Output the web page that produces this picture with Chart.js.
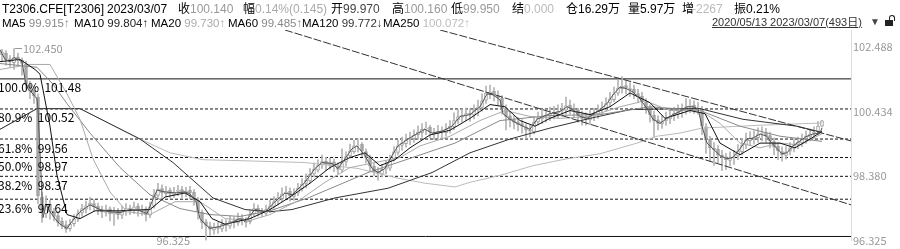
<!DOCTYPE html>
<html>
<head>
<meta charset="utf-8">
<script src="https://cdn.jsdelivr.net/npm/chart.js@4.4.0/dist/chart.umd.min.js"></script>
<style>
  body { margin: 0; background: #fff; }
  #wrap { position: relative; width: 900px; height: 249px; overflow: hidden; font-family: 'Liberation Sans', 'Noto Sans CJK SC', sans-serif; }
  #chart { position: absolute; left: 0; top: 0; }
  .t { position: absolute; font-size: 12px; line-height: 14px; white-space: nowrap; color: #000; }
  .z2 { font-size: 11.5px; }
  #zeitraum { left: 712px; top: 15px; color: #333; text-decoration: underline; font-size: 11px; }
  #pfeil { left: 870px; top: 15px; color: #444; font-size: 10px; }
  #schloss { position: absolute; left: 885px; top: 20px; width: 8px; height: 6px; background: #222; }
  #schloss:after { content: ''; position: absolute; left: 4px; top: -5px; width: 4px; height: 5px; border: 1px solid #222; border-bottom: none; border-radius: 3px 3px 0 0; }
</style>
</head>
<body>
<div id="wrap">
  <canvas id="chart" width="900" height="249"></canvas>
  <div id="kopf"></div>
  <span class="t" id="zeitraum">2020/05/13 2023/03/07(493日)</span>
  <span class="t" id="pfeil">▼</span>
  <div id="schloss"></div>
</div>
<script>
// Kerzen (Index 0 = linker Rand)
const eroeffnung = [102.25,102.30,102.12,102.00,102.18,102.08,101.95,101.28,101.12,100.90,
  97.70,97.18,97.48,97.22,97.12,96.93,96.82,96.70,96.86,97.00,
  97.20,97.32,97.45,97.50,97.42,97.30,97.22,97.33,97.16,97.26,
  97.13,97.29,97.36,97.29,97.42,97.25,97.33,97.13,97.42,97.76,
  97.98,97.82,97.92,97.79,97.89,97.95,97.82,97.92,97.86,97.60,
  97.22,96.92,96.78,96.66,96.76,96.69,96.86,96.78,96.95,96.88,
  97.04,96.94,96.92,97.17,97.36,97.22,97.19,97.33,97.41,97.58,
  97.66,97.83,97.89,97.73,97.83,97.97,98.14,98.22,98.45,98.57,
  98.73,98.86,98.73,98.83,98.69,98.57,98.83,99.02,99.16,99.36,
  99.39,99.16,98.99,98.69,98.54,98.44,98.61,98.63,98.92,99.13,
  99.36,99.41,99.55,99.57,99.70,99.76,99.89,99.93,99.76,99.74,
  99.83,99.76,99.89,99.95,100.17,100.26,100.33,100.39,100.32,100.49,
  100.57,100.80,101.01,101.08,100.95,100.86,100.55,100.30,100.17,100.11,
  100.05,99.95,99.86,99.79,100.11,100.20,100.30,100.29,100.39,100.39,
  100.46,100.48,100.64,100.54,100.49,100.29,100.24,100.17,100.30,100.35,
  100.49,100.54,100.71,100.82,101.02,101.17,101.27,101.17,101.15,101.01,
  100.93,100.73,100.58,100.32,100.17,100.04,100.14,100.20,100.30,100.35,
  100.46,100.45,100.61,100.64,100.54,100.50,99.95,99.55,99.26,99.23,
  99.04,98.99,98.88,98.99,99.02,99.16,99.39,99.51,99.61,99.60,
  99.74,99.77,99.67,99.48,99.33,99.16,99.04,99.17,99.26,99.39,
  99.44,99.58,99.63,99.74,99.80,99.97];
const hoch = [102.42,102.38,102.22,102.45,102.30,102.15,102.05,101.40,101.25,101.00,
  97.85,97.75,97.60,97.35,97.25,97.05,96.95,97.00,97.15,97.30,
  97.48,97.58,97.70,97.62,97.52,97.42,97.45,97.40,97.38,97.35,
  97.42,97.50,97.45,97.55,97.50,97.45,97.40,97.55,97.95,98.15,
  98.10,98.05,98.00,98.02,98.08,98.05,98.02,98.05,97.95,97.70,
  97.30,97.00,96.90,96.88,96.90,97.00,96.98,97.10,97.08,97.20,
  97.15,97.05,97.30,97.50,97.45,97.35,97.45,97.60,97.72,97.85,
  98.00,98.05,98.00,97.98,98.15,98.30,98.45,98.62,98.80,98.90,
  99.05,98.98,98.95,98.92,98.80,99.25,99.15,99.40,99.52,99.55,
  99.45,99.25,99.05,98.78,98.65,98.75,98.85,99.05,99.32,99.52,
  99.62,99.72,99.78,99.85,99.98,100.05,100.10,100.00,99.90,100.00,
  99.95,100.05,100.15,100.40,100.50,100.52,100.55,100.52,100.65,100.80,
  101.00,101.25,101.28,101.20,101.10,100.95,100.65,100.42,100.30,100.25,
  100.18,100.05,100.00,100.28,100.42,100.50,100.50,100.58,100.60,100.65,
  100.70,100.90,100.80,100.68,100.55,100.45,100.40,100.48,100.55,100.65,
  100.75,100.88,101.05,101.22,101.45,101.55,101.42,101.35,101.28,101.15,
  101.05,100.85,100.65,100.45,100.30,100.30,100.42,100.48,100.58,100.65,
  100.68,100.85,100.82,100.78,100.72,100.60,100.05,99.65,99.45,99.35,
  99.20,99.10,99.15,99.20,99.38,99.58,99.75,99.80,99.82,99.92,
  99.95,99.90,99.78,99.60,99.45,99.30,99.32,99.45,99.55,99.62,
  99.72,99.82,99.88,99.95,100.12,100.16];
const tief = [102.05,101.92,101.85,101.78,101.90,101.60,101.15,100.85,100.70,97.50,
  96.90,97.05,97.00,96.95,96.78,96.70,96.58,96.62,96.78,96.92,
  97.10,97.20,97.30,97.25,97.15,97.05,97.10,96.95,96.80,97.00,
  97.02,97.12,97.15,97.18,97.10,97.12,96.95,97.05,97.35,97.70,
  97.70,97.72,97.68,97.70,97.75,97.70,97.72,97.65,97.45,97.00,
  96.70,96.325,96.48,96.52,96.55,96.60,96.62,96.70,96.72,96.80,
  96.82,96.75,96.85,97.10,97.10,97.08,97.12,97.22,97.35,97.45,
  97.55,97.68,97.58,97.60,97.75,97.90,98.00,98.15,98.35,98.50,
  98.62,98.55,98.60,98.52,98.45,98.50,98.70,98.95,99.10,99.15,
  99.00,98.80,98.55,98.40,98.25,98.35,98.45,98.55,98.85,99.05,
  99.20,99.30,99.38,99.45,99.55,99.62,99.70,99.60,99.55,99.58,
  99.60,99.65,99.75,99.85,100.05,100.10,100.15,100.12,100.20,100.30,
  100.45,100.70,100.85,100.78,100.65,100.35,99.85,99.95,99.88,99.82,
  99.75,99.58,99.62,99.72,100.00,100.05,100.10,100.15,100.20,100.22,
  100.28,100.35,100.35,100.25,100.10,100.00,100.00,100.02,100.15,100.22,
  100.35,100.45,100.60,100.75,100.95,101.02,101.00,100.92,100.85,100.72,
  100.55,100.38,100.10,99.62,99.85,99.90,100.00,100.05,100.15,100.22,
  100.25,100.35,100.40,100.38,100.35,99.70,99.10,98.85,98.72,98.80,
  98.55,98.58,98.70,98.75,98.90,99.05,99.25,99.35,99.40,99.45,
  99.50,99.45,99.28,99.05,98.90,98.85,98.92,99.05,99.15,99.25,
  99.32,99.42,99.50,99.58,99.70,99.95];
const schluss = [102.34,102.10,102.03,102.16,102.10,101.97,101.31,101.09,100.94,97.75,
  97.20,97.46,97.24,97.09,96.90,96.80,96.68,96.84,97.02,97.18,
  97.34,97.43,97.52,97.40,97.31,97.24,97.31,97.18,97.24,97.15,
  97.27,97.34,97.31,97.40,97.27,97.31,97.15,97.40,97.78,97.96,
  97.84,97.90,97.81,97.87,97.93,97.84,97.90,97.84,97.62,97.24,
  96.90,96.80,96.68,96.74,96.71,96.84,96.80,96.93,96.90,97.02,
  96.96,96.90,97.15,97.34,97.24,97.21,97.31,97.43,97.56,97.68,
  97.81,97.87,97.75,97.81,97.99,98.12,98.24,98.43,98.59,98.71,
  98.84,98.75,98.81,98.71,98.59,98.81,99.00,99.18,99.34,99.37,
  99.18,98.97,98.71,98.52,98.46,98.59,98.65,98.90,99.15,99.34,
  99.43,99.53,99.59,99.68,99.78,99.87,99.91,99.78,99.72,99.81,
  99.78,99.87,99.97,100.15,100.28,100.31,100.37,100.34,100.47,100.59,
  100.78,101.03,101.06,100.97,100.88,100.53,100.28,100.19,100.09,100.03,
  99.97,99.84,99.81,100.09,100.22,100.28,100.31,100.37,100.41,100.44,
  100.50,100.62,100.56,100.47,100.31,100.22,100.19,100.28,100.37,100.47,
  100.56,100.69,100.84,101.00,101.19,101.25,101.19,101.13,101.03,100.91,
  100.75,100.56,100.34,100.15,100.06,100.12,100.22,100.28,100.37,100.44,
  100.47,100.59,100.62,100.56,100.53,99.97,99.53,99.28,99.21,99.06,
  98.97,98.90,98.97,99.00,99.18,99.37,99.53,99.59,99.62,99.72,
  99.75,99.65,99.50,99.31,99.18,99.06,99.15,99.28,99.37,99.46,
  99.56,99.65,99.72,99.78,99.97,100.14];

// Durchschnittslinien als [Index, Wert]
const ma5 = [[-0.5,102.41],[0.75,102.10],[2,102.03],[3,102.16],[4,102.10],[5,102.03],[5.75,101.47],[6.5,101.16],[7.75,101.00],[8.75,100.84],[9,100.50],
  [10.25,97.05],[11,97.46],[12,97.24],[13.25,97.02],[14.5,96.84],[16.25,96.71],[17.5,96.93],[19.5,97.24],[22,97.46],[24.5,97.31],[27,97.24],
  [29.5,97.21],[32,97.31],[34.5,97.27],[36.25,97.18],[37.5,97.56],[38.75,97.93],[40.75,97.87],[43.25,97.84],[45.75,97.87],[47,97.81],[48.5,97.56],
  [49.5,97.02],[50.75,96.84],[52,96.71],[54.5,96.77],[57.5,96.90],[59.5,97.02],[60.75,96.93],[63.25,97.31],[65.75,97.24],[68.25,97.56],[70.75,97.84],
  [72.5,97.78],[75.75,98.18],[78.25,98.62],[80,98.81],[82.5,98.78],[84,98.62],[85.75,98.93],[87.5,99.25],[88.75,99.34],[90.75,99.03],[92.5,98.62],
  [94,98.49],[95.75,98.62],[97.5,99.03],[99,99.34],[101.5,99.56],[104,99.75],[105.75,99.87],[107.5,99.75],[110,99.81],[112.5,99.97],[114.5,100.28],
  [117,100.34],[119.5,100.59],[121.25,101.00],[122.75,100.97],[124.5,100.81],[125.25,100.37],[127,100.19],[128.75,100.06],[130.25,99.97],[132,99.87],
  [133.75,100.19],[135.25,100.28],[137,100.37],[139.5,100.44],[141.25,100.59],[142.75,100.50],[144.5,100.28],[146.25,100.22],[147.75,100.34],
  [149.5,100.50],[151.25,100.69],[152.75,100.97],[154.5,101.22],[156.25,101.16],[157.75,101.06],[159.5,100.84],[161.25,100.53],[162.75,100.19],
  [164.5,100.06],[166.25,100.22],[167.75,100.34],[169.5,100.44],[171.25,100.59],[172.75,100.59],[174,100.53],[175,99.97],[176.25,99.43],
  [177.75,99.25],[179.5,99.03],[181.25,98.93],[182.75,98.97],[184.5,99.25],[186.25,99.56],[187.75,99.59],[189.5,99.72],[191.25,99.65],[192,99.50],
  [193.75,99.25],[195,99.09],[196.25,99.12],[197.75,99.34],[199.5,99.50],[201.25,99.65],[202.75,99.72],[204.5,99.75],[205,99.915]];
const ma10 = [[-0.5,102.03],[4.5,102.10],[8.25,101.78],[9.5,101.63],[12,99.97],[13.75,98.40],[16.25,97.15],[19.5,97.02],[23.25,97.27],[29.5,97.27],
  [37,97.31],[40.75,97.71],[45.75,97.84],[49.5,97.56],[52.5,97.02],[55.75,96.84],[62,97.02],[67,97.31],[72,97.71],[77,98.15],[82,98.65],[87,98.97],
  [90.75,99.12],[94.5,98.71],[98.25,98.90],[102,99.28],[107,99.69],[112,99.84],[117,100.22],[122,100.66],[125.75,100.59],[129.5,100.15],
  [133.25,99.97],[137,100.22],[142,100.47],[147,100.34],[152,100.59],[157,101.03],[162,100.72],[165.75,100.22],[172,100.47],[175.75,100.37],
  [179.5,99.43],[184.5,99.06],[189.5,99.43],[194.5,99.43],[198.25,99.28],[202,99.56],[205,99.804]];
const ma20 = [[-0.5,101.78],[7,101.94],[12,101.94],[16.25,101.00],[19.5,100.19],[22.75,98.93],[27,97.87],[31.25,97.24],[37,97.15],[43.25,97.56],
  [49.5,97.56],[55.75,97.02],[62,96.96],[67,97.15],[74.5,97.62],[80.75,98.18],[87,98.65],[93.25,98.81],[99.5,98.97],[104.5,99.34],[112,99.65],
  [119.5,100.15],[125.75,100.47],[132,100.28],[139.5,100.22],[147,100.28],[154.5,100.59],[160.75,100.78],[167,100.47],[174.5,100.47],
  [179.5,100.06],[184.5,99.43],[189.5,99.28],[194.5,99.43],[199.5,99.37],[205,99.73]];
const ma60 = [[-0.5,101.97],[8.75,101.85],[12.75,101.31],[16.25,100.69],[22,99.75],[29.5,98.65],[37,97.78],[44.5,97.34],[52,97.15],[59.5,97.09],
  [67,97.27],[76.5,97.68],[91.5,98.49],[113.25,99.43],[124.5,100.15],[137,100.31],[149.5,100.34],[162,100.59],[174.5,100.47],[184.5,99.97],
  [194.5,99.65],[205,99.485]];
const ma120 = [[-0.5,99.87],[8.75,100.53],[19.5,100.53],[34.5,99.56],[42.75,98.81],[52.75,97.68],[60.75,97.31],[67,97.24],[72.5,97.31],[83.25,97.68],
  [96.5,97.99],[107.5,98.49],[117,99.12],[127,99.56],[137,99.91],[147,100.22],[157,100.50],[169.5,100.53],[174.5,100.53],[185.25,100.19],
  [198.75,99.97],[205,99.772]];
const ma250 = [[-0.5,99.87],[8.75,100.53],[19.5,100.53],[34.5,99.56],[42,99.12],[50.25,98.90],[59.5,98.87],[75.75,98.81],[89,98.62],[99,98.31],
  [105.75,98.15],[113.25,98.03],[117,98.18],[124.5,98.40],[132.75,98.71],[141.25,98.93],[149.5,99.09],[158.75,99.43],[163.75,99.65],[169.5,99.75],
  [175,99.91],[189.5,100.00],[205,100.072]];

const maNamen = ['MA5', 'MA10', 'MA20', 'MA60', 'MA120', 'MA250'];
const maWerte = ['99.915↑', '99.804↑', '99.730↑', '99.485↑', '99.772↓', '100.072↑'];
const maFarben = ['#555', '#111', '#aaa', '#888', '#333', '#bbb'];
const maTextFarben = ['#888', '#222', '#aaa', '#888', '#333', '#bbb'];

// Fibonacci
const fibProzent = [100.0, 80.9, 61.8, 50.0, 38.2, 23.6, 0.0];
const fibWerte = [101.48, 100.52, 99.56, 98.97, 98.37, 97.64, 96.45];

// Trendlinien [Index, Wert]
const trendOben = [[109.5, 103.04], [212.25, 99.50]];
const trendUnten = [[70.75, 103.04], [212.25, 97.46]];

const achsenWerte = [96.325, 98.380, 100.434, 102.488];
const hochMarke = { index: 3, wert: 102.450 };
const tiefMarke = { index: 51, wert: 96.325 };

// Kopfzeile
const kopf1 = [[2,'T2306.CFE[T2306]','#000'],[107,'2023/03/07','#000'],[178,'收','#000'],[190,'100.140','#999'],
  [243,'幅','#000'],[255,'0.14%(0.145)','#aaa'],[331,'开','#000'],[343,'99.970','#444'],[392,'高','#000'],[404,'100.160','#999'],
  [451,'低','#000'],[463,'99.950','#999'],[512,'结','#000'],[524,'0.000','#bbb'],[566,'仓','#000'],[578,'16.29万','#000'],
  [628,'量','#000'],[640,'5.97万','#000'],[682,'增','#000'],[692,'-2267','#bbb'],[734,'振','#000'],[746,'0.21%','#000']];
const kopf2x = [2, 74, 151, 228, 302, 383];

let kopfHTML = '';
kopf1.forEach(k => {
  kopfHTML += `<span class="t" style="left:${k[0]}px;top:2px;color:${k[2]}">${k[1]}</span>`;
});
maNamen.forEach((n, i) => {
  kopfHTML += `<span class="t z2" style="left:${kopf2x[i]}px;top:16px">${n} <span style="color:${maTextFarben[i]}">${maWerte[i]}</span></span>`;
});
document.getElementById('kopf').innerHTML = kopfHTML;

const fibText = {
  id: 'fibText',
  afterDatasetsDraw(chart) {
    const { ctx, scales: { x, y } } = chart;
    ctx.save();
    ctx.font = '12px "Noto Sans CJK SC"';
    ctx.fillStyle = '#000';
    ctx.textBaseline = 'alphabetic';
    fibProzent.forEach((p, i) => {
      if (p === 0) return;
      ctx.fillText(`${p.toFixed(1)}%  ${fibWerte[i].toFixed(2)}`, -2, y.getPixelForValue(fibWerte[i]) + 13.5);
    });
    ctx.font = '11px "Noto Sans CJK SC"';
    ctx.fillStyle = '#999';
    ctx.strokeStyle = '#999';
    ctx.lineWidth = 1;
    ctx.textBaseline = 'middle';
    const hx = x.getPixelForValue(hochMarke.index), hy = Math.round(y.getPixelForValue(hochMarke.wert)) + 0.5;
    ctx.beginPath();
    ctx.moveTo(hx + 1, hy);
    ctx.lineTo(hx + 8, hy);
    ctx.stroke();
    ctx.fillText(hochMarke.wert.toFixed(3), hx + 9, hy);
    const tx = x.getPixelForValue(tiefMarke.index);
    ctx.textAlign = 'right';
    ctx.fillText(tiefMarke.wert.toFixed(3), tx - 16, y.getPixelForValue(tiefMarke.wert));
    ctx.restore();
  }
};

const idx = schluss.map((_, i) => i);
const datasets = [];

fibProzent.forEach((p, i) => {
  datasets.push({
    type: 'line',
    data: [{ x: -0.5, y: fibWerte[i] }, { x: 212.25, y: fibWerte[i] }],
    borderColor: '#111',
    borderWidth: 1,
    borderDash: (p === 100 || p === 0) ? [] : [3, 2],
    pointRadius: 0,
    order: 30
  });
});

[trendOben, trendUnten].forEach(t => {
  datasets.push({
    type: 'line',
    data: t.map(p => ({ x: p[0], y: p[1] })),
    borderColor: '#333',
    borderWidth: 1,
    borderDash: [8, 2],
    pointRadius: 0,
    order: 2
  });
});

[ma250, ma120, ma60, ma20, ma10, ma5].forEach((m, j) => {
  const k = 5 - j;
  datasets.push({
    type: 'line',
    data: m.map(p => ({ x: p[0], y: p[1] })),
    borderColor: maFarben[k],
    borderWidth: 1,
    pointRadius: 0,
    tension: 0,
    order: 10 - j
  });
});

datasets.push({
  type: 'bar',
  data: idx.map(i => ({ x: i, y: [tief[i], hoch[i]] })),
  backgroundColor: '#b4b4b4',
  borderWidth: 0,
  barThickness: 1,
  grouped: false,
  order: 21
});
datasets.push({
  type: 'bar',
  data: idx.map(i => ({ x: i, y: [eroeffnung[i], schluss[i]] })),
  backgroundColor: idx.map(i => schluss[i] >= eroeffnung[i] ? '#ffffff' : '#a8a8a8'),
  borderColor: '#a0a0a0',
  borderWidth: 1,
  borderSkipped: false,
  barThickness: 3,
  grouped: false,
  order: 20
});

const ctx = document.getElementById('chart').getContext('2d');
window.myChart = new Chart(ctx, {
  type: 'bar',
  data: { datasets },
  options: {
    responsive: false,
    animation: false,
    devicePixelRatio: 1,
    layout: { autoPadding: false, padding: { top: 30, bottom: 4.7, left: 0, right: 0 } },
    plugins: { legend: { display: false }, tooltip: { enabled: false } },
    scales: {
      x: { type: 'linear', min: -0.5, max: 212.25, display: false, offset: false },
      y: {
        position: 'right',
        min: 96.325,
        max: 103.04,
        grid: { display: false, drawTicks: false },
        border: { display: true, color: '#ddd' },
        afterBuildTicks: ax => { ax.ticks = achsenWerte.map(v => ({ value: v })); },
        afterFit: ax => { ax.width = 49; },
        ticks: {
          padding: 2,
          color: '#999',
          font: { family: 'Noto Sans CJK SC', size: 11 },
          callback: v => v.toFixed(3)
        }
      }
    }
  },
  plugins: [fibText]
});
</script>
</body>
</html>
